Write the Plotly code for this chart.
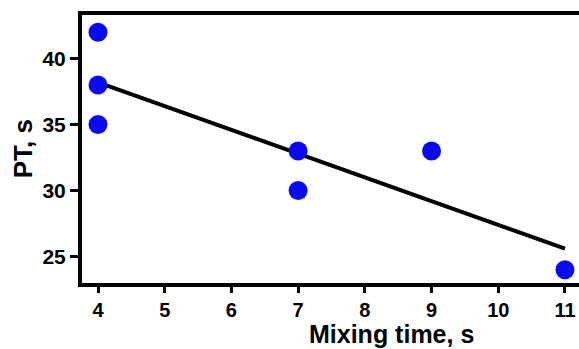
import numpy as np
import plotly.graph_objects as go

mixing_time = [4, 4, 4, 7, 7, 9, 11]
pt = [42, 38, 35, 33, 30, 33, 24]
x_ticks = [4, 5, 6, 7, 8, 9, 10, 11]
y_ticks = [25, 30, 35, 40]

slope, intercept = np.polyfit(mixing_time, pt, 1)
fit_x = [min(mixing_time), max(mixing_time)]
fit_y = [slope * v + intercept for v in fit_x]

FONT = "Liberation Sans, Arial, sans-serif"

fig = go.Figure()
fig.add_trace(go.Scatter(x=fit_x, y=fit_y, mode="lines",
                         line=dict(color="black", width=4), showlegend=False))
fig.add_trace(go.Scatter(x=mixing_time, y=pt, mode="markers",
                         marker=dict(color="#0a0af0", size=19, line=dict(width=0)),
                         showlegend=False, cliponaxis=False))

fig.update_layout(
    width=579, height=349,
    margin=dict(l=82, r=0, t=15, b=66),
    paper_bgcolor="white", plot_bgcolor="white",
    font=dict(family=FONT, color="black"),
    xaxis=dict(range=[3.76, 11.21], tickvals=x_ticks,
               ticktext=[f"<b>{v}</b>" for v in x_ticks],
               ticks="outside", ticklen=6,
               tickwidth=3, tickcolor="black", showline=True, linewidth=4,
               linecolor="black", mirror=True, showgrid=False, zeroline=False,
               tickfont=dict(family=FONT, size=20, color="black")),
    yaxis=dict(range=[23, 43.3], tickvals=y_ticks,
               ticktext=[f"<b>{v}</b>" for v in y_ticks],
               ticks="outside", ticklen=8,
               tickwidth=3, tickcolor="black", showline=True, linewidth=4,
               linecolor="black", showgrid=False, zeroline=False,
               tickfont=dict(family=FONT, size=21, color="black")),
    annotations=[
        dict(text="<b>Mixing time, s</b>", xref="paper", yref="paper",
             x=0.623, y=-0.19, xanchor="center", yanchor="middle", showarrow=False,
             borderpad=0,
             font=dict(family=FONT, size=25, color="black")),
        dict(text="<b>PT, s</b>", xref="paper", yref="paper", textangle=-90,
             x=-0.118, y=0.5, xanchor="center", yanchor="middle", showarrow=False,
             font=dict(family=FONT, size=26, color="black")),
    ],
)

fig.write_html("out.html")
